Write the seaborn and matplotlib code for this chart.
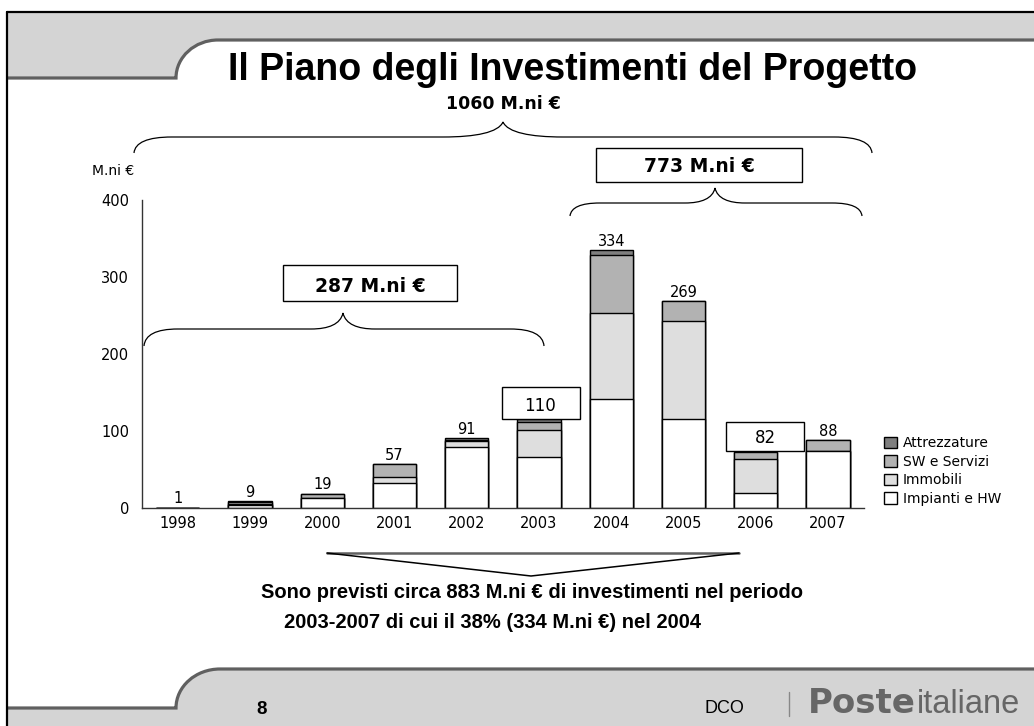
import numpy as np
import pandas as pd
import matplotlib
matplotlib.use('Agg')
import matplotlib.pyplot as plt
import seaborn as sns
from matplotlib.path import Path
from matplotlib.patches import PathPatch, Rectangle, Patch
from matplotlib.lines import Line2D

# ---------------- data ----------------
years = ['1998', '1999', '2000', '2001', '2002', '2003', '2004', '2005', '2006', '2007']
impianti_hw = [0, 4, 13, 33, 80, 67, 142, 116, 20, 74]
immobili = [0, 1, 0, 7, 7, 34, 111, 127, 44, 0]
sw_servizi = [0.5, 3, 6, 17, 2, 11, 75, 26, 9, 14]
attrezzature = [0.5, 1, 0, 0, 2, 4, 7, 0, 0, 0]
total_labels = ['1', '9', '19', '57', '91', '110', '334', '269', '82', '88']
boxed_years = ['2003', '2006']
series_names = ['Impianti e HW', 'Immobili', 'SW e Servizi', 'Attrezzature']
series_colors = ['#ffffff', '#dedede', '#b2b2b2', '#7f7f7f']
y_ticks = [0, 100, 200, 300, 400]

W, H = 1034, 726
sns.set_style('white')
plt.rcParams['font.family'] = ['DejaVu Sans']
plt.rcParams['text.color'] = 'black'
plt.rcParams['xtick.color'] = 'black'
plt.rcParams['ytick.color'] = 'black'
plt.rcParams['axes.labelcolor'] = 'black'

fig = plt.figure(figsize=(W / 100, H / 100), dpi=100)
fig.patch.set_facecolor('white')


def fx(x):
    return x / W


def fy(y):
    return 1 - y / H


def pts(seq):
    return [(fx(x), fy(y)) for x, y in seq]


M, L, C, CL = Path.MOVETO, Path.LINETO, Path.CURVE4, Path.CLOSEPOLY

# ---------------- page decoration ----------------
band_fill = '#d4d4d4'
band_line = '#606060'

head_fill = [(7, 12), (1034, 12), (1034, 40), (218, 40), (194.8, 40), (176, 57), (176, 78), (7, 78), (7, 12)]
fig.add_artist(PathPatch(Path(pts(head_fill), [M, L, L, L, C, C, C, L, CL]),
                         transform=fig.transFigure, facecolor=band_fill, edgecolor='none', zorder=0))
head_line = [(7, 78), (176, 78), (176, 57), (194.8, 40), (218, 40), (1034, 40)]
fig.add_artist(PathPatch(Path(pts(head_line), [M, L, C, C, C, L]), transform=fig.transFigure,
                         facecolor='none', edgecolor=band_line, lw=2.3, zorder=1))

foot_fill = [(7, 726), (7, 708), (176, 708), (176, 686.5), (195.7, 669), (220, 669), (1034, 669), (1034, 726), (7, 726)]
fig.add_artist(PathPatch(Path(pts(foot_fill), [M, L, L, C, C, C, L, L, CL]),
                         transform=fig.transFigure, facecolor=band_fill, edgecolor='none', zorder=0))
foot_line = [(7, 708), (176, 708), (176, 686.5), (195.7, 669), (220, 669), (1034, 669)]
fig.add_artist(PathPatch(Path(pts(foot_line), [M, L, C, C, C, L]), transform=fig.transFigure,
                         facecolor='none', edgecolor=band_line, lw=2.3, zorder=1))

fig.add_artist(Line2D([fx(7), fx(1034)], [fy(12), fy(12)], transform=fig.transFigure, color='black', lw=1.6))
fig.add_artist(Line2D([fx(7), fx(7)], [fy(12), fy(726)], transform=fig.transFigure, color='black', lw=1.6))

# titles
fig.text(fx(573), fy(80), 'Il Piano degli Investimenti del Progetto', ha='center', va='baseline',
         fontsize=27, fontweight='bold', family=['Liberation Sans', 'DejaVu Sans'])
fig.text(fx(503), fy(109), '1060 M.ni €', ha='center', va='baseline', fontsize=12.5, fontweight='bold')


def brace(x0, x1, xm, yE, yH, yT, end_w, tip_w):
    v = [(x0, yE), (x0 + 1, yH + (yE - yH) * 0.35), (x0 + end_w * 0.35, yH), (x0 + end_w, yH),
         (xm - tip_w, yH),
         (xm - tip_w * 0.45, yH), (xm - tip_w * 0.08, yH - (yH - yT) * 0.3), (xm, yT),
         (xm + tip_w * 0.08, yH - (yH - yT) * 0.3), (xm + tip_w * 0.45, yH), (xm + tip_w, yH),
         (x1 - end_w, yH),
         (x1 - end_w * 0.35, yH), (x1 - 1, yH + (yE - yH) * 0.35), (x1, yE)]
    codes = [M, C, C, C, L, C, C, C, C, C, C, L, C, C, C]
    fig.add_artist(PathPatch(Path(pts(v), codes), transform=fig.transFigure,
                             facecolor='none', edgecolor='black', lw=0.9, zorder=3))


def box(x0, y0, x1, y1, text, cx, base, **kw):
    fig.add_artist(Rectangle((fx(x0), fy(y1)), (x1 - x0) / W, (y1 - y0) / H, transform=fig.transFigure,
                             facecolor='white', edgecolor='black', lw=1.0, zorder=3))
    fig.text(fx(cx), fy(base), text, ha='center', va='baseline', zorder=4, **kw)


brace(134, 872, 503, 153, 137, 122, 38, 60)
brace(144, 544, 343, 346, 329, 313, 34, 32)
brace(570, 862, 715, 216, 203, 188, 30, 30)

box(283, 265, 457, 301, '287 M.ni €', 370, 292, fontsize=13.5, fontweight='bold')
box(596, 148, 802, 182, '773 M.ni €', 699, 172, fontsize=13.5, fontweight='bold')
box(502, 387, 580, 419, total_labels[years.index('2003')], 540, 411, fontsize=12)
box(726, 422, 804, 451, total_labels[years.index('2006')], 765, 443, fontsize=12)

# ---------------- chart ----------------
ax = fig.add_axes([fx(141.7), fy(508.3), (864 - 141.7) / W, (508.3 - 200) / H])
ax.set_facecolor('none')

stack = np.cumsum(np.array([impianti_hw, immobili, sw_servizi, attrezzature], dtype=float), axis=0)
for k in reversed(range(len(series_names))):
    df = pd.DataFrame({'year': years, 'value': stack[k]})
    sns.barplot(data=df, x='year', y='value', order=years, color=series_colors[k], saturation=1,
                width=0.6, edgecolor='black', linewidth=1.0, errorbar=None, ax=ax)

for i, (yr, lbl) in enumerate(zip(years, total_labels)):
    if yr in boxed_years:
        continue
    ax.annotate(lbl, (i, stack[-1][i]), xytext=(0, 3), textcoords='offset points',
                ha='center', va='baseline', fontsize=10.5, color='black')

ax.set_xlim(-0.5, 9.5)
ax.set_ylim(0, 400)
ax.set_yticks(y_ticks)
ax.set_xlabel('')
ax.set_ylabel('')
sns.despine(ax=ax)
for s in ['left', 'bottom']:
    ax.spines[s].set_color('#333333')
    ax.spines[s].set_linewidth(1.0)
ax.tick_params(axis='both', length=0, labelsize=10.5, labelcolor='black')
ax.tick_params(axis='y', pad=9)
ax.tick_params(axis='x', pad=5.5)

fig.text(fx(113), fy(175), 'M.ni €', ha='center', va='baseline', fontsize=10)

handles = [Patch(facecolor=series_colors[k], edgecolor='black', lw=1.0, label=series_names[k])
           for k in reversed(range(len(series_names)))]
fig.legend(handles=handles, loc='center left', bbox_to_anchor=(fx(884), fy(471)), frameon=False,
           fontsize=10, handlelength=0.9, handleheight=0.9, handletextpad=0.45, labelspacing=0.32,
           borderpad=0, borderaxespad=0, labelcolor='black')

# ---------------- conclusion arrow + text ----------------
fig.add_artist(Line2D([fx(327), fx(739)], [fy(553), fy(553)], transform=fig.transFigure, color='#606060', lw=1.8))
fig.add_artist(Line2D([fx(327), fx(531), fx(739)], [fy(553), fy(576), fy(553)], transform=fig.transFigure,
                      color='black', lw=1.1))
fig.text(fx(532), fy(598), 'Sono previsti circa 883 M.ni € di investimenti nel periodo', ha='center',
         va='baseline', fontsize=14.5, fontweight='bold', family=['Liberation Sans', 'DejaVu Sans'])
fig.text(fx(492), fy(628), '2003-2007 di cui il 38% (334 M.ni €) nel 2004', ha='center',
         va='baseline', fontsize=14.5, fontweight='bold', family=['Liberation Sans', 'DejaVu Sans'])

# ---------------- footer ----------------
fig.text(fx(262), fy(714), '8', ha='center', va='baseline', fontsize=13.5, fontweight='bold',
         family=['Liberation Sans', 'DejaVu Sans'])
fig.text(fx(724), fy(713), 'DCO', ha='center', va='baseline', fontsize=13,
         family=['Liberation Sans', 'DejaVu Sans'])
fig.add_artist(Line2D([fx(789), fx(789)], [fy(692), fy(716)], transform=fig.transFigure, color='#888888', lw=1))
t1 = fig.text(fx(808), fy(713), 'Poste', ha='left', va='baseline', fontsize=24.5, fontweight='bold',
              color='#666666', family=['DejaVu Sans'])
fig.canvas.draw()
bb = t1.get_window_extent(renderer=fig.canvas.get_renderer())
fig.text(bb.x1 / W + 0.0005, fy(713), 'italiane', ha='left', va='baseline', fontsize=23.5,
         color='#666666', family=['Liberation Sans', 'DejaVu Sans'])

fig.savefig('out.png', dpi=100, facecolor='white')
